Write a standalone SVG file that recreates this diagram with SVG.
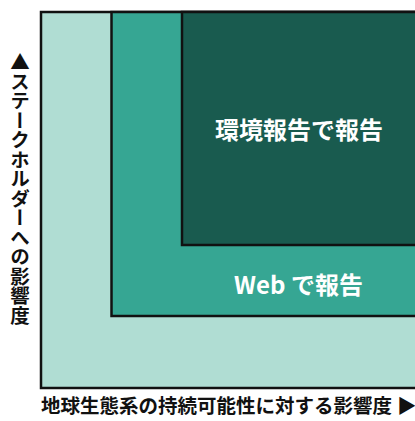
<svg xmlns="http://www.w3.org/2000/svg" width="415" height="421" viewBox="0 0 415 421">
<style>
.box{stroke:#111;stroke-width:2.5}
.lbl{font-family:"Noto Sans CJK JP","Noto Sans",sans-serif;font-weight:bold}
.in{fill:#ffffff;font-size:24px;text-anchor:middle;dominant-baseline:central}
.ax{fill:#111;font-size:19.5px}
</style>
<rect width="415" height="421" fill="#ffffff"/>
<g id="outer">
<rect class="box" x="41" y="12" width="380" height="376" fill="#b0ddd3"/>
</g>
<g id="web">
<rect class="box" x="111.5" y="12" width="310" height="304" fill="#36a693"/>
<text class="lbl in" x="298.5" y="283">Web で報告</text>
</g>
<g id="env">
<rect class="box" x="182" y="12" width="240" height="233" fill="#195b4f"/>
<text class="lbl in" x="299" y="128">環境報告で報告</text>
</g>
<g id="axes">
<text class="lbl ax" x="20" y="52" writing-mode="vertical-rl" style="writing-mode:vertical-rl">▲ステークホルダーへの影響度</text>
<text class="lbl ax" x="41" y="413">地球生態系の持続可能性に対する影響度<tspan x="397">▶</tspan></text>
</g>
</svg>
